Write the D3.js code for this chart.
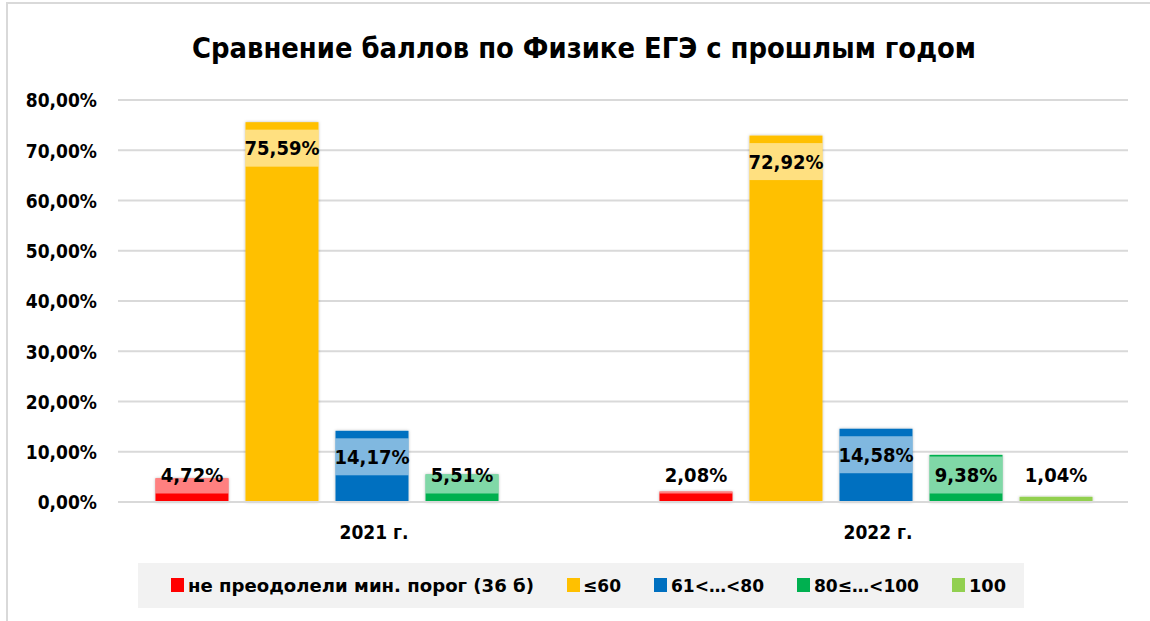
<!DOCTYPE html>
<html>
<head>
<meta charset="utf-8">
<script src="https://cdn.jsdelivr.net/npm/d3@7/dist/d3.min.js"></script>
<style>
  html, body { margin: 0; padding: 0; background: #fff; }
  svg { display: block; }
  text { font-family: "DejaVu Sans Condensed", "DejaVu Sans", sans-serif; font-stretch: condensed; font-weight: bold; fill: #000; }
</style>
</head>
<body>
<svg id="chart" width="1150" height="621"></svg>
<script>
// ---- data ----
const title = "Сравнение баллов по Физике ЕГЭ с прошлым годом";
const categories = ["2021 г.", "2022 г."];
const seriesNames = ["не преодолели мин. порог (36 б)", "≤60", "61<…<80", "80≤…<100", "100"];
const values2021 = [4.72, 75.59, 14.17, 5.51, null];
const values2022 = [2.08, 72.92, 14.58, 9.38, 1.04];
const yTicks = [0, 10, 20, 30, 40, 50, 60, 70, 80];
const seriesColors = ["#FF0000", "#FFC000", "#0070C0", "#00B050", "#92D050"];

const valuesByCategory = [values2021, values2022];

const locale = d3.formatLocale({ decimal: ",", thousands: " ", grouping: [3], currency: ["", ""] });
const fmt = v => locale.format(".2f")(v) + "%";

const svg = d3.select("#chart");
const W = 1150, H = 621;
const plot = { left: 120, right: 1128, top: 100, bottom: 502 };

// defs: soft shadow
const defs = svg.append("defs");
const f = defs.append("filter").attr("id", "shadow").attr("x", "-20%").attr("y", "-20%").attr("width", "140%").attr("height", "140%");
f.append("feDropShadow").attr("dx", 0).attr("dy", 0).attr("stdDeviation", 1.6)
  .attr("flood-color", "#000").attr("flood-opacity", 0.28);

// chart border (cropped)
svg.append("rect").attr("x", 7).attr("y", 3).attr("width", W + 20).attr("height", H + 20)
  .attr("fill", "#fff").attr("stroke", "#d9d9d9").attr("stroke-width", 2);

// title
svg.append("text").attr("class", "title")
  .attr("x", 584).attr("y", 58).attr("text-anchor", "middle")
  .style("font-size", "29px")
  .attr("textLength", 784).attr("lengthAdjust", "spacingAndGlyphs")
  .text(title);

// scales
const y = d3.scaleLinear().domain([0, 80]).range([plot.bottom, plot.top]);
const x0 = d3.scaleBand().domain(categories).range([plot.left, plot.right]).padding(0);
const x1 = d3.scaleBand().domain(seriesNames).range([0, x0.bandwidth()])
  .paddingInner(0.189).paddingOuter(0.394);

// gridlines
svg.append("g").selectAll("line").data(yTicks).join("line")
  .attr("x1", plot.left - 2).attr("x2", plot.right)
  .attr("y1", d => y(d)).attr("y2", d => y(d))
  .attr("stroke", "#d9d9d9").attr("stroke-width", 2);

// y axis labels
const yAxis = d3.axisLeft(y).tickValues(yTicks).tickSize(0).tickPadding(0)
  .tickFormat(d => fmt(d));
const gy = svg.append("g").attr("transform", `translate(97,0)`).call(yAxis);
gy.select(".domain").remove();
gy.selectAll("text").style("font-size", "19px").attr("dy", "0.36em").attr("fill", "#000");

// bars
const groups = svg.append("g").selectAll("g").data(categories).join("g")
  .attr("transform", d => `translate(${x0(d)},0)`);

const barData = (c, i) => seriesNames.map((s, j) => ({ series: s, value: valuesByCategory[i][j], color: seriesColors[j] }))
  .filter(d => d.value != null);

groups.each(function (c, i) {
  const g = d3.select(this);
  const data = barData(c, i);
  g.selectAll("rect.bar").data(data).join("rect").attr("class", "bar")
    .attr("x", d => x1(d.series)).attr("width", x1.bandwidth())
    .attr("y", d => y(d.value)).attr("height", d => y(0) - y(d.value))
    .attr("fill", d => d.color).attr("filter", "url(#shadow)");

  // label boxes (semi-transparent white)
  const boxH = 37;
  const center = d => Math.min(y(d.value) + 7.5 + boxH / 2, y(0) - 27);
  g.selectAll("rect.lbox").data(data).join("rect").attr("class", "lbox")
    .attr("x", d => x1(d.series)).attr("width", x1.bandwidth())
    .attr("y", d => Math.max(center(d) - boxH / 2, y(d.value)))
    .attr("height", d => (center(d) + boxH / 2) - Math.max(center(d) - boxH / 2, y(d.value)))
    .attr("fill", "#fff").attr("fill-opacity", 0.5);

  g.selectAll("text.lbl").data(data).join("text").attr("class", "lbl")
    .attr("x", d => x1(d.series) + x1.bandwidth() / 2)
    .attr("y", d => center(d)).attr("dy", "0.36em")
    .attr("text-anchor", "middle").style("font-size", "20px")
    .text(d => fmt(d.value));
});

// axis line
svg.append("line").attr("x1", plot.left - 2).attr("x2", plot.right)
  .attr("y1", y(0)).attr("y2", y(0)).attr("stroke", "#d9d9d9").attr("stroke-width", 2);

// category labels
const xAxis = d3.axisBottom(x0).tickSize(0).tickPadding(0);
const gx = svg.append("g").attr("transform", `translate(2,539)`).call(xAxis);
gx.select(".domain").remove();
gx.selectAll("text").attr("dy", 0).style("font-size", "19px").attr("fill", "#000");

// legend
const legend = svg.append("g");
legend.append("rect").attr("x", 138).attr("y", 563).attr("width", 886).attr("height", 45).attr("fill", "#f2f2f2");
const legendTextWidths = [346, 38, 93, 105, 37];
const legendTextOffsets = [17, 16, 17, 17, 17];
let lx = 171;
seriesNames.forEach((s, j) => {
  legend.append("rect").attr("x", lx).attr("y", 578).attr("width", 13).attr("height", 14).attr("fill", seriesColors[j]);
  const t = legend.append("text").attr("x", lx + legendTextOffsets[j]).attr("y", 592).style("font-size", "18px").text(s);
  const target = legendTextWidths[j];
  t.attr("textLength", target).attr("lengthAdjust", "spacingAndGlyphs");
  lx += legendTextOffsets[j] + target + 33;
});
</script>
</body>
</html>
